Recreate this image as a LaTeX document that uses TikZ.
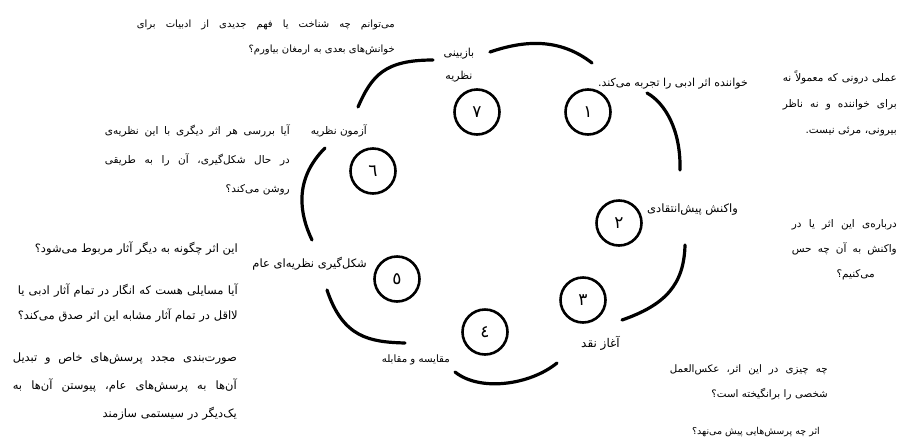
\documentclass[tikz,border=0pt]{standalone}
\usepackage{fontspec}
\newfontfamily\fafont[Script=Arabic]{DejaVu Sans}
\TeXXeTstate=1
\usetikzlibrary{positioning}
\newcommand\fa[1]{\beginR #1\endR}
\newcommand\jl[1]{\leavevmode\hbox to \linewidth{\spaceskip=.25em plus 1fil\relax\beginR #1\endR}}
\newcommand\fs[2]{\fafont\fontsize{#1}{#2}\selectfont}

\begin{document}
\begin{tikzpicture}[x=1pt,y=-1pt,
    num/.style={draw, circle, line width=2.6pt, minimum size=45pt, inner sep=0pt, font=\fs{17}{17}},
    lbl/.style={inner sep=0pt, anchor=base east, font=\fs{11}{13}},
    para/.style={inner sep=0pt, anchor=base east, align=right, font=\fs{11}{25}},
    arc/.style={line width=3.2pt, line cap=round}]
            \useasboundingbox (0,0) rectangle (899,437);

            \draw (588,112) node[num]                  (n1) {١};
            \draw (619,223) node[num]                  (n2) {٢};
            \draw (583,300) node[num]                  (n3) {٣};
            \draw (485,332) node[num]                  (n4) {٤};
            \draw (397,279) node[num]                  (n5) {٥};
            \draw (373,171) node[num]                  (n6) {٦};
            \draw (477,112) node[num]                  (n7) {٧};

            \draw (748,86) node[lbl]                   (s1) {\fa{خواننده اثر ادبی را تجربه می‌کند.}};
            \draw (738,212) node[lbl, font=\fs{11.5}{13}] (s2) {\fa{واکنش پیش‌انتقادی}};
            \draw (620,347) node[lbl, font=\fs{12}{13}]   (s3) {\fa{آغاز نقد}};
            \draw (450,362) node[lbl, font=\fs{10.2}{13}] (s4) {\fa{مقایسه و مقابله}};
            \draw (367,267) node[lbl, font=\fs{11.5}{13}] (s5) {\fa{شکل‌گیری نظریه‌ای عام}};
            \draw (367,134) node[lbl, font=\fs{10.5}{13}] (s6) {\fa{آزمون نظریه}};
            \draw (459,56) node[para, anchor=base, align=center, text width=50pt, font=\fs{11}{23}] (s7) {\fa{بازبینی}\\\fa{نظریه}};

            \draw (897,81) node[para, text width=114pt, font=\fs{10.5}{26}] (q1)
                {\jl{عملی درونی که معمولاً نه}\\\jl{برای خواننده و نه ناظر}\\\fa{بیرونی، مرئی نیست.}};
            \draw (897,227) node[para, text width=105pt, font=\fs{10.5}{25}] (q2)
                {\jl{درباره‌ی این اثر یا در}\\\jl{واکنش به آن چه حس}\\\fa{می‌کنیم؟}\kern22pt};
            \draw (828,372) node[para, text width=158pt, font=\fs{10.3}{25}] (q3)
                {\jl{چه چیزی در این اثر، عکس‌العمل}\\\fa{شخصی را برانگیخته است؟}};
            \draw (820,434) node[lbl, font=\fs{9.5}{13}]  (q3b) {\fa{اثر چه پرسش‌هایی پیش می‌نهد؟}};
            \draw (237,361) node[para, text width=224pt, font=\fs{11.5}{28}] (q4)
                {\jl{صورت‌بندی مجدد پرسش‌های خاص و تبدیل}\\\jl{آن‌ها به پرسش‌های عام، پیوستن آن‌ها به}\\\fa{یک‌دیگر در سیستمی سازمند}};
            \draw (238,252) node[lbl, font=\fs{11.5}{13}] (q5) {\fa{این اثر چگونه به دیگر آثار مربوط می‌شود؟}};
            \draw (238,294) node[para, text width=220pt, font=\fs{11.5}{25}] (q5b)
                {\jl{آیا مسایلی هست که انگار در تمام آثار ادبی یا}\\\fa{لااقل در تمام آثار مشابه این اثر صدق می‌کند؟}};
            \draw (290,134) node[para, text width=185pt, font=\fs{10.5}{29}] (q6)
                {\jl{آیا بررسی هر اثر دیگری با این نظریه‌ی}\\\jl{در حال شکل‌گیری، آن را به طریقی}\\\fa{روشن می‌کند؟}};
            \draw (395,27) node[para, text width=258pt, font=\fs{10}{25}] (q7)
                {\jl{می‌توانم چه شناخت یا فهم جدیدی از ادبیات برای}\\\fa{خوانش‌های بعدی به ارمغان بیاورم؟}};

            \coordinate (g71a) at (490,52);  \coordinate (g71b) at (592,63);
            \coordinate (g12a) at (647,93);  \coordinate (g12b) at (680,170);
            \coordinate (g23a) at (685,245); \coordinate (g23b) at (622,320);
            \coordinate (g34a) at (557,363); \coordinate (g34b) at (455,372);
            \coordinate (g45a) at (405,343); \coordinate (g45b) at (327,290);
            \coordinate (g56a) at (312,240); \coordinate (g56b) at (325,148);
            \coordinate (g67a) at (358,107); \coordinate (g67b) at (433,60);
            \draw[arc] (g71a) .. controls (525,40) and (560,38) .. (g71b);
            \draw[arc] (g12a) .. controls (665,103) and (681,130) .. (g12b);
            \draw[arc] (g23a) .. controls (684,285) and (665,305) .. (g23b);
            \draw[arc] (g34a) .. controls (530,385) and (480,392) .. (g34b);
            \draw[arc] (g45a) .. controls (370,342) and (343,338) .. (g45b);
            \draw[arc] (g56a) .. controls (300,215) and (293,180) .. (g56b);
            \draw[arc] (g67a) .. controls (372,75) and (385,60) .. (g67b);
\end{tikzpicture}
\end{document}
